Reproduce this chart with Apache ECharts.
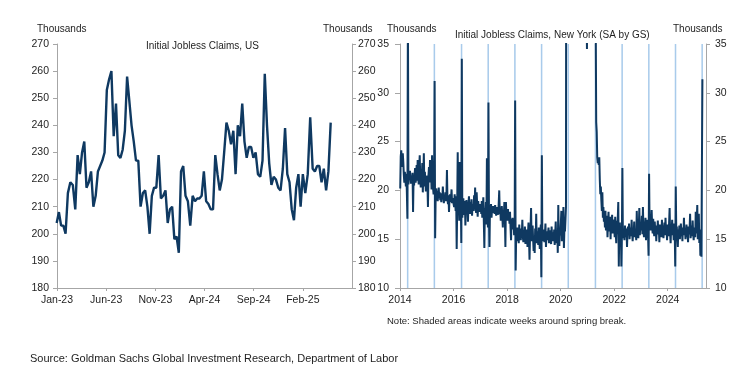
<!DOCTYPE html>
<html><head><meta charset="utf-8">
<script src="https://cdn.jsdelivr.net/npm/echarts@6/dist/echarts.min.js"></script>
<style>html,body{margin:0;padding:0;background:#fff}#c{width:751px;height:382px}</style>
</head><body><div id="c"></div>
<script>
// ---------- DATA: US initial jobless claims (thousands), weekly ----------
const usStart = '2022-12-31';
const usClaims = [204,208,203,203,200,215,219,218,209,229,222,230,234,217,219,223,210,214,223,225,227,230,253,257,260,236,248,229,228,231,238,258,249,240,234,227,227,210,215,216,210,200,214,217,217,229,213,214,216,204,209,210,198,199,193,223,225,214,212,203,214,212,213,213,214,223,212,211,209,209,229,222,216,220,230,241,238,233,238,222,240,236,248,234,228,232,232,228,230,222,221,227,259,240,226,218,221,220,217,216,224,239,222,219,209,205,217,222,210,222,215,222,243,224,223,225,225,219,224,216,223,241];
const usTickLabels = ['Jan-23','Jun-23','Nov-23','Apr-24','Sep-24','Feb-25','Jul-25'];

// ---------- DATA: New York initial claims (SA by GS, thousands), weekly ----------
const nyStart = '2014-01-04';
const ny2014 = [20.2,23.5,24.1,23.0,22.4,23.8,22.9,21.6,20.8,21.9,21.2,20.4,21.7,19.6,17.1,38.0,20.6,21.8,21.1,22.0,21.3,20.7,21.5,20.9,21.8,17.8,21.2,20.5,21.6,22.3,20.8,21.4,22.6,21.0,23.1,21.5,20.6,22.4,23.6,21.2,20.3,22.0,21.4,22.8,19.8,21.6,23.8,20.4,21.9,21.0,19.9,21.5];
const ny2015 = [21.2,20.6,18.3,21.5,22.4,20.8,23.1,21.0,22.3,20.1,23.6,21.4,20.2,19.6,20.8,31.2,15.1,19.3,20.2,19.5,19.9,18.9,19.6,20.3,19.2,19.8,19.0,19.4,18.8,19.7,19.1,20.4,19.3,18.7,19.5,19.0,19.8,18.9,19.4,22.1,19.2,18.6,19.5,17.8,19.1,19.6,18.8,19.3,20.1,18.7,19.2,18.9];
const ny2016 = [19.0,18.3,19.6,18.8,17.9,19.4,14.0,18.5,23.9,18.2,19.1,16.9,22.9,18.0,19.3,14.6,33.5,17.2,18.6,19.2,18.1,17.5,18.9,16.4,18.3,19.0,17.8,18.5,16.8,18.7,19.4,18.2,17.6,18.8,18.0,19.1,17.4,18.6,18.3,17.9,19.5,18.4,20.3,18.1,17.7,19.8,18.5,17.3,18.9,18.2,17.8,18.6,18.0];
const ny2017 = [18.4,17.6,18.9,17.2,18.1,19.3,16.8,14.1,18.2,17.5,18.8,16.5,23.3,17.9,16.2,29.0,17.4,14.2,18.3,17.8,18.6,17.2,18.1,17.7,18.4,17.9,18.2,17.6,18.5,18.0,17.4,18.3,17.8,18.1,17.5,18.7,20.0,17.6,18.2,16.9,17.8,18.4,17.3,16.2,18.0,17.5,18.8,17.1,14.2,18.8,17.4,16.9];
const ny2018 = [17.6,18.1,16.9,17.4,16.6,17.8,16.2,14.9,17.1,16.5,17.2,16.0,16.8,15.4,16.3,29.2,11.8,15.6,14.8,16.2,15.1,15.9,14.6,16.5,15.3,15.8,14.9,16.1,15.5,17.0,15.2,14.7,15.9,15.4,16.3,14.5,15.7,15.1,16.0,14.2,15.6,16.7,15.0,12.9,15.4,16.2,18.2,14.8,15.5,16.4,15.0,13.8];
const ny2019 = [15.2,13.6,16.1,15.0,17.6,14.6,15.8,15.3,14.4,16.2,15.1,14.0,15.7,16.5,11.1,23.6,14.8,15.9,15.2,16.0,14.7,15.5,16.6,14.2,15.3,15.8,14.9,15.6,16.2,14.6,15.4,15.9,15.0,14.5,16.3,15.2,14.8,15.7,15.1,16.0,14.4,15.5,16.8,15.0,14.6,15.9,13.6,18.5,15.2,14.3,16.0,15.4];
const ny2020 = [15.6,17.9,14.8,16.4,15.3,18.3,14.1,16.2,15.8,17.0,18.3,80,366,345,206,203,173,226,139,117,138,120,105,98,92,88,96,85,78,74,70,69,66,63,58,61,55,52,54,49,47,50,46,44,48,45,43,47,44,42,39,34.5];
const ny2021 = [52,58,55,50,53,48,46,49,45,47,44,42,45,41,43,40,38,27.0,26.0,23.4,22.8,23.2,22.6,23.4,21.1,19.6,20.4,19.0,17.9,19.8,17.2,18.3,16.8,17.6,16.2,17.9,15.9,16.8,17.4,15.2,16.6,17.8,15.8,16.4,17.3,15.0,16.9,16.1,17.5,15.6,16.3,17.0];
const ny2022 = [16.4,15.2,17.3,15.8,14.6,16.9,15.5,17.1,18.8,12.2,15.9,16.7,14.8,16.3,12.2,15.4,22.3,15.1,16.0,15.6,14.9,16.4,15.7,15.2,16.1,14.2,15.8,16.3,15.4,16.6,15.0,15.9,16.2,15.3,17.0,15.6,14.8,16.1,15.5,16.8,15.2,16.0,15.7,14.9,17.9,15.8,16.5,15.1,16.3,18.2,15.4,16.6,15.9];
const ny2023 = [16.2,17.4,15.5,18.3,16.0,15.2,16.8,15.7,17.2,14.9,16.4,15.8,17.0,15.4,13.3,21.7,16.1,17.5,15.9,16.6,18.0,16.3,15.6,17.1,16.0,15.3,16.8,15.8,16.4,14.8,16.2,15.7,16.9,15.5,16.1,14.7,16.5,15.9,16.3,15.2,17.0,15.8,16.4,15.1,16.0,16.7,15.4,17.2,15.6,16.2,14.9,16.5];
const ny2024 = [16.0,15.3,16.7,18.2,15.6,14.6,16.4,15.9,17.0,15.4,16.2,14.9,16.6,15.7,12.2,20.4,15.8,16.3,15.1,14.2,16.0,15.5,16.4,15.0,15.8,16.6,15.3,15.9,14.8,16.2,15.6,17.2,15.4,16.1,15.0,15.7,16.5,15.2,15.9,14.7,16.3,15.5,16.0,17.6,15.1,15.8,16.4,15.3,16.9,15.6,14.9,16.2];
const ny2025 = [16.4,15.2,17.8,15.6,16.9,18.5,15.0,16.3,17.6,14.6,16.0,13.3,15.8,13.2,13.4,31.4];
const nyTickLabels = ['2014','2016','2018','2020','2022','2024'];

// week-ending dates of spring-break weeks (shaded)
const springBreakWeeks = ['2014-04-19','2015-04-18','2016-04-23','2017-04-22','2018-04-21','2019-04-20','2020-04-18','2021-04-24','2022-04-23','2023-04-22','2024-04-20','2025-04-19'];

// ---------- helpers ----------
function addDays(s, n){ const d = new Date(s + 'T00:00:00Z'); d.setUTCDate(d.getUTCDate() + n); return d; }
function fracYear(d){ const y = d.getUTCFullYear(); const a = Date.UTC(y,0,1), b = Date.UTC(y+1,0,1); return y + (d.getTime()-a)/(b-a); }
function monthsSince2023(d){ const y = d.getUTCFullYear(), m = d.getUTCMonth(); const dim = new Date(Date.UTC(y, m+1, 0)).getUTCDate(); return (y-2023)*12 + m + (d.getUTCDate()-1)/dim; }

const usData = usClaims.map((v,i) => [monthsSince2023(addDays(usStart, 7*i)), v]);
const nyAll = [].concat(ny2014,ny2015,ny2016,ny2017,ny2018,ny2019,ny2020,ny2021,ny2022,ny2023,ny2024,ny2025);
const nyData = nyAll.map((v,i) => [fracYear(addDays(nyStart, 7*i)), v]);
const bands = springBreakWeeks.map(s => [{xAxis: fracYear(addDays(s, -14))}, {xAxis: fracYear(addDays(s, 7))}]);

const FONT = 'Liberation Sans, Arial, sans-serif';
const TXT = '#1e1e1e';
const AX = '#a6a6a6';
const NAVY = '#0f3961';

function yAx(grid, min, max, interval, pos, tickLen, margin){
  return {
    type: 'value', gridIndex: grid, position: pos, min, max, interval,
    axisLine: {show: true, lineStyle: {color: AX, width: 1}},
    axisTick: {show: true, length: tickLen, lineStyle: {color: AX}},
    splitLine: {show: false},
    axisLabel: {color: TXT, fontSize: 10.5, fontFamily: FONT, margin}
  };
}
function ttl(text, left, top, size){
  return {text, left, top, padding: 0, textStyle: {fontSize: size, fontWeight: 'normal', color: TXT, fontFamily: FONT}};
}

const chart = echarts.init(document.getElementById('c'), null, {renderer: 'canvas'});
chart.setOption({
  animation: false,
  backgroundColor: '#fff',
  title: [
    ttl('Thousands', 37, 24, 10),
    ttl('Thousands', 323, 24, 10),
    ttl('Thousands', 387, 24, 10),
    ttl('Thousands', 673, 24, 10),
    ttl('Initial Jobless Claims, US', 146, 41, 10),
    ttl('Initial Jobless Claims, New York (SA by GS)', 455, 30, 10),
    ttl('Note: Shaded areas indicate weeks around spring break.', 387, 316, 9.5),
    ttl('Source: Goldman Sachs Global Investment Research, Department of Labor', 30, 353, 11)
  ],
  grid: [
    {left: 57, top: 44, width: 295, height: 244, containLabel: false},
    {left: 400, top: 44, width: 306, height: 244, containLabel: false}
  ],
  xAxis: [
    {type: 'value', gridIndex: 0, min: 0, max: 30, interval: 5,
     axisLine: {show: true, onZero: false, lineStyle: {color: AX}},
     axisTick: {show: true, length: 3, lineStyle: {color: AX}},
     splitLine: {show: false},
     axisLabel: {color: TXT, fontSize: 10.5, fontFamily: FONT, margin: 7, showMaxLabel: false,
       formatter: v => usTickLabels[Math.round(v/5)] || ''}},
    {type: 'value', gridIndex: 1, min: 2014, max: 2025.43, interval: 2,
     axisLine: {show: true, onZero: false, lineStyle: {color: AX}},
     axisTick: {show: true, length: 3, lineStyle: {color: AX}},
     splitLine: {show: false},
     axisLabel: {color: TXT, fontSize: 10.5, fontFamily: FONT, margin: 7, showMaxLabel: false,
       formatter: v => nyTickLabels[Math.round((v-2014)/2)] || ''}}
  ],
  yAxis: [
    yAx(0, 180, 270, 10, 'left', 4, 8),
    yAx(0, 180, 270, 10, 'right', 4, 6),
    yAx(1, 10, 35, 5, 'left', 5, 11),
    yAx(1, 10, 35, 5, 'right', 4, 9)
  ],
  series: [
    {type: 'line', xAxisIndex: 0, yAxisIndex: 0, data: usData, showSymbol: false, symbol: 'none',
     lineStyle: {color: NAVY, width: 2.4}, clip: true, z: 3},
    {type: 'line', xAxisIndex: 1, yAxisIndex: 2, data: [], symbol: 'none', silent: true, z: 1,
     markArea: {silent: true, itemStyle: {color: '#a9cbeb'}, data: bands}},
    {type: 'line', xAxisIndex: 1, yAxisIndex: 2, data: nyData, showSymbol: false, symbol: 'none',
     lineStyle: {color: NAVY, width: 2}, clip: true, z: 3}
  ]
});
</script>
</body></html>
